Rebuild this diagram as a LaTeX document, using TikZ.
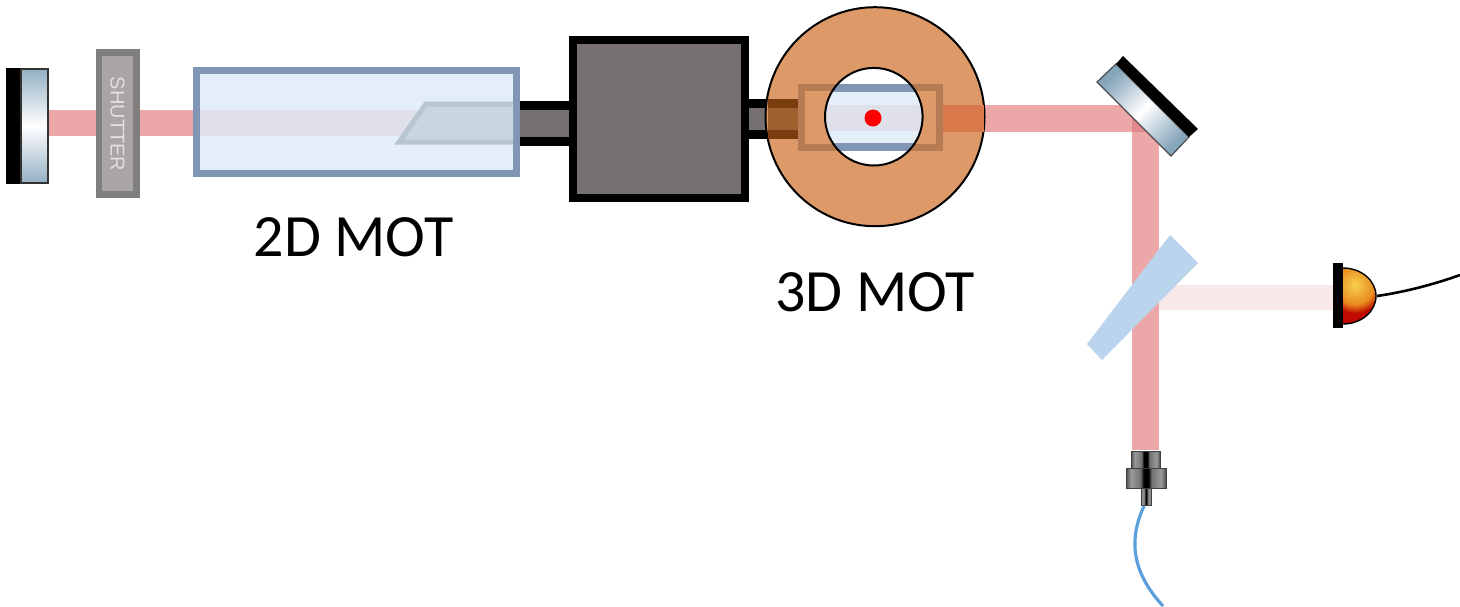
\documentclass[tikz,border=0pt]{standalone}
\usepackage{fontspec}
\setmainfont{Carlito}
\newfontfamily\shutterfont{Liberation Sans}
\definecolor{beam}{HTML}{ECA7A8}
\definecolor{beamover}{HTML}{E4898C}
\definecolor{beamfade}{HTML}{F9E9E8}
\definecolor{beamglass}{HTML}{E0E0EA}
\definecolor{glass}{HTML}{E3EEF8}
\definecolor{glassedge}{HTML}{8196B4}
\definecolor{steel}{HTML}{767170}
\definecolor{copper}{HTML}{DD9A68}
\definecolor{copperframe}{HTML}{B67B52}
\definecolor{copperbeam}{HTML}{D9784A}
\definecolor{coppertube}{HTML}{A05F2F}
\definecolor{copperdark}{HTML}{7A3D10}
\definecolor{splitter}{HTML}{B9D4EC}
\definecolor{fibre}{HTML}{5B9FDC}
\definecolor{mirrorend}{HTML}{94B0C4}
\definecolor{mirrorfar}{HTML}{85A5BA}
\definecolor{shutterbody}{HTML}{A9A5A5}
\definecolor{shutteredge}{HTML}{7F7F7F}
\definecolor{shuttertext}{HTML}{E2DFDF}
\definecolor{wedgefill}{HTML}{C9D5E0}
\definecolor{wedgeedge}{HTML}{B8C6D0}
\definecolor{domeyellow}{HTML}{F6D04D}
\definecolor{domeorange}{HTML}{E98A1E}
\definecolor{domered}{HTML}{C00A00}
\pgfdeclareradialshading{domeshade}{\pgfpoint{0bp}{0bp}}{
  color(0bp)=(domeyellow);
  color(11bp)=(domeorange);
  color(16bp)=(domered);
  color(50bp)=(domered)}
\pgfdeclarehorizontalshading{connshade}{100bp}{
  color(0bp)=(black!70);
  color(25bp)=(black!70);
  color(31bp)=(black!40);
  color(43bp)=(black!55);
  color(47bp)=(black);
  color(53bp)=(black);
  color(57bp)=(black!55);
  color(69bp)=(black!40);
  color(75bp)=(black!70);
  color(100bp)=(black!70)}
\tikzset{
  label text/.style={font=\fontsize{30pt}{32pt}\selectfont,text=black,inner sep=0pt},
  beamline/.style={fill=beam,draw=none},
  connector/.style={shading=connshade,draw=black!75,line width=0.5pt}
}
\begin{document}
\begin{tikzpicture}[x=0.5pt,y=-0.5pt]
\useasboundingbox (0,0) rectangle (1460,606);
% beams
\fill[beamline] (48,110) rectangle (193,136);
\fill[beamline] (984,105) rectangle (1159,132);
\fill[beamline] (1132,105) rectangle (1159,450);
\fill[beamover] (1132,117) -- (1147,132) -- (1132,132) -- cycle;
\fill[beamfade] (1159,285) rectangle (1333,310);
% left mirror
\fill[black] (6,68) rectangle (21,184);
\shade[top color=mirrorend,bottom color=mirrorend,middle color=white,draw=black!80,line width=0.6pt] (21,69) rectangle (48,183);
% shutter
\fill[shutteredge] (96,49) rectangle (140,198);
\fill[shutterbody] (102,56) rectangle (133,191);
\node[rotate=-90,text=shuttertext,font=\shutterfont\fontsize{10pt}{10pt}\selectfont,inner sep=0pt] (shutter) at (117.5,124) {SHUTTER};
% 2D MOT cell
\fill[steel] (520,105) rectangle (570,142);
\fill[black] (520,101) rectangle (570,110);
\fill[black] (520,137) rectangle (570,146);
\fill[glass,draw=glassedge,line width=3.5pt] (196.5,70.5) rectangle (516.5,173.5);
\fill[beamglass] (200,110) rectangle (513,136);
\fill[wedgefill] (399,142) -- (426,104) -- (513,104) -- (513,142) -- cycle;
\draw[wedgeedge,line width=2.5pt] (513,104) -- (426,104) -- (399,142) -- (513,142);
% transfer chamber
\fill[steel,draw=black,line width=4pt] (572.5,40) rectangle (745,198);
\fill[steel] (749,107) rectangle (770,131);
\fill[black] (749,99) rectangle (770,108);
\fill[black] (749,130) rectangle (770,139);
% 3D MOT coil
\fill[copper,draw=black,line width=1pt] (875,116.7) circle[radius=109.5];
\fill[coppertube] (768,108) rectangle (798,131);
\fill[copperdark] (768,99) rectangle (798,108);
\fill[copperdark] (768,130) rectangle (798,139);
\draw[copperframe,line width=3.5pt] (801.5,87.5) rectangle (939.5,147.5);
\fill[copperbeam] (943,105) rectangle (983.5,132);
% coil bore
\begin{scope}
\clip (873.8,116.7) circle[radius=48.8];
\fill[white] (820,60) rectangle (930,175);
\fill[glass] (820,84) rectangle (930,151);
\fill[glassedge] (820,84) rectangle (930,92);
\fill[glassedge] (820,143) rectangle (930,151);
\fill[beamglass] (820,105) rectangle (930,131);
\end{scope}
\draw[black,line width=1pt] (873.8,116.7) circle[radius=48.8];
\fill[red] (873,118) circle[radius=8.5];
% right mirror
\shade[left color=mirrorfar,right color=mirrorfar,middle color=white,shading angle=45,draw=black!70,line width=0.6pt] (1097,82) -- (1116,64) -- (1189,137) -- (1171,156) -- cycle;
\fill[black] (1116,64) -- (1123,56) -- (1198,129) -- (1189,137) -- cycle;
% beam splitter
\fill[splitter] (1170,235) -- (1198,263) -- (1102,360) -- (1087,344) -- cycle;
% detector
\begin{scope}
\clip (1343,268) arc[start angle=-90,end angle=90,x radius=33,y radius=28] -- cycle;
\shade[shading=domeshade] (1311,241) rectangle (1399,329);
\end{scope}
\draw[black,line width=0.7pt] (1343,268) arc[start angle=-90,end angle=90,x radius=33,y radius=28];
\fill[black] (1333,263) rectangle (1343,328);
\coordinate (detout) at (1377,296);
\coordinate (wireend) at (1460,275);
\draw[black,line width=1.3pt] (detout) .. controls (1405,292) and (1435,284) .. (wireend);
% fibre connector
\shade[connector] (1131,451) rectangle (1160,468);
\shade[connector] (1126,468) rectangle (1166,488);
\shade[connector] (1141,488) rectangle (1151,505);
\coordinate (fibrestart) at (1144,506);
\coordinate (fibreend) at (1163,606);
\draw[fibre,line width=1.6pt] (fibrestart) .. controls (1133,530) and (1125,565) .. (fibreend);
% labels
\node[label text] (mot2d) at (353.5,237) {2D MOT};
\node[label text] (mot3d) at (875,292) {3D MOT};
\end{tikzpicture}
\end{document}
